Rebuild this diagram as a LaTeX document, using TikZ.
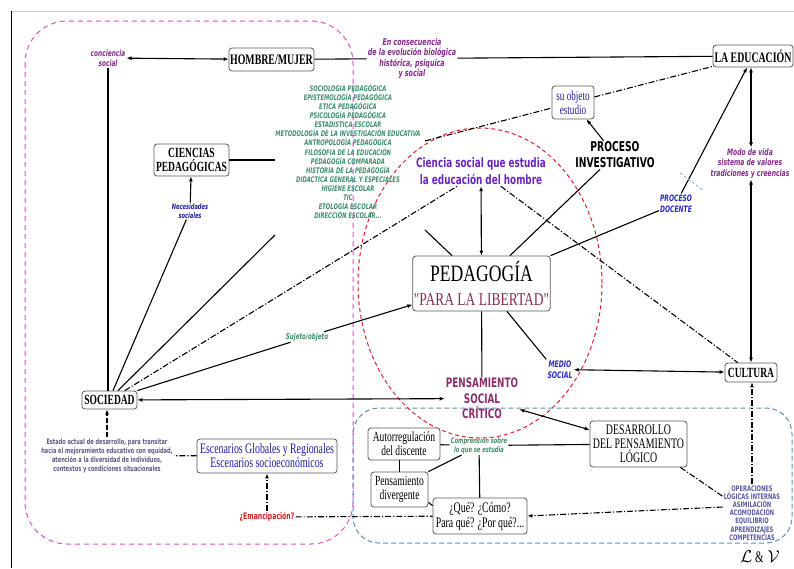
\documentclass[tikz,border=0pt]{standalone}
\usepackage{fontspec}
\setmainfont{Liberation Serif}[FakeStretch=0.68]
\newfontfamily\serw{Liberation Serif}[FakeStretch=0.75]
\newfontfamily\sfc{DejaVu Sans}[FakeStretch=0.68]
\usetikzlibrary{arrows.meta,calc}
\definecolor{purpA}{HTML}{862A8E}
\definecolor{violC}{HTML}{6B24C4}
\definecolor{blueT}{HTML}{2A2AC8}
\definecolor{blueD}{HTML}{1E1EA0}
\definecolor{maroonP}{HTML}{8C2F6E}
\definecolor{maroonL}{HTML}{8A2A55}
\definecolor{greenL}{HTML}{3F8F6C}
\definecolor{redE}{HTML}{D21818}
\definecolor{grayP}{HTML}{5E5A86}
\definecolor{opsB}{HTML}{5A5AA8}
\definecolor{pinkD}{HTML}{E050D0}
\definecolor{blueDash}{HTML}{6090B8}
\definecolor{redDash}{HTML}{E02030}
\definecolor{lightB}{HTML}{80B0D8}
\tikzset{
  box/.style={draw=black!65, line width=0.8pt, rounded corners=3pt, fill=white, align=center, inner sep=1pt},
  lbl/.style={align=center, inner sep=1pt},
  ln/.style={line width=1.1pt, black},
  arr/.style={-{Latex[length=5pt,width=4pt]}},
  darr/.style={{Latex[length=5pt,width=4pt]}-{Latex[length=5pt,width=4pt]}},
  dd/.style={black, line width=1.1pt, dash pattern=on 6pt off 2pt on 1.2pt off 2pt},
}
\begin{document}
\begin{tikzpicture}[x=1pt,y=-1pt]
\useasboundingbox (0,0) rectangle (794,568);
\fill[white] (0,0) rectangle (794,568);
% frame
\draw[black!20, line width=1pt] (11,11) -- (794,11);
\draw[black, line width=1pt] (11,11) -- (11,568);
% dashed regions
\draw[pinkD, line width=1pt, dash pattern=on 5pt off 4pt, rounded corners=42pt] (25,21) rectangle (353,544);
\draw[blueDash, line width=1pt, dash pattern=on 5pt off 3pt, rounded corners=26pt] (353,408) rectangle (792,543);
\draw[redDash, line width=1pt, dash pattern=on 4pt off 3pt] (480,283) ellipse [x radius=122pt, y radius=155pt];

% boxes
\node[box, minimum width=85pt, minimum height=23pt, font=\fontsize{14.5}{15}\selectfont\bfseries] (hm) at (271.5,59.5) {HOMBRE/MUJER};
\node[box, minimum width=80pt, minimum height=22pt, font=\fontsize{14.5}{15}\selectfont\bfseries] (edu) at (753,56) {LA EDUCACIÓN};
\node[box, minimum width=75pt, minimum height=32pt, font=\fontsize{14}{14}\selectfont\bfseries] (cien) at (191.5,160) {CIENCIAS\\PEDAGÓGICAS};
\node[box, minimum width=55pt, minimum height=18pt, font=\fontsize{14}{14}\selectfont\bfseries] (soc) at (109.5,400) {SOCIEDAD};
\node[box, minimum width=52pt, minimum height=19pt, font=\fontsize{14}{14}\selectfont\bfseries] (cul) at (751,372.5) {CULTURA};
\node[box, minimum width=42pt, minimum height=33pt, text=blueD, font=\fontsize{13.5}{14}\selectfont] (obj) at (573,102.5) {su objeto\\estudio};
\node[box, minimum width=137pt, minimum height=55pt, font=\serw\fontsize{18}{24}\selectfont] (ped) at (481.5,283.5) {{\fontsize{23.5}{24}\selectfont PEDAGOGÍA}\\\textcolor{maroonL}{"PARA LA LIBERTAD"}};
\node[box, minimum width=97pt, minimum height=46pt, font=\fontsize{14.5}{14}\selectfont] (des) at (638.5,444) {DESARROLLO\\DEL PENSAMIENTO\\LÓGICO};
\node[box, minimum width=72pt, minimum height=32pt, font=\fontsize{14}{14}\selectfont] (aut) at (404,444) {Autorregulación\\del discente};
\node[box, minimum width=57pt, minimum height=35pt, font=\fontsize{14}{13.5}\selectfont] (pdv) at (399.5,489.5) {Pensamiento\\divergente};
\node[box, minimum width=94pt, minimum height=36pt, font=\fontsize{14.5}{15}\selectfont] (que) at (480,516) {¿Qué? ¿Cómo?\\Para qué? ¿Por qué?...};
\node[box, minimum width=140pt, minimum height=34pt, text=blueD, font=\fontsize{14.5}{14}\selectfont] (esc) at (267,456) {Escenarios Globales y Regionales\\Escenarios socioeconómicos};

% text labels
\node[lbl, text=purpA, font=\sfc\fontsize{8.6}{10}\selectfont\bfseries\itshape] (conc) at (108,58) {conciencia\\social};
\node[lbl, text=purpA, font=\sfc\fontsize{9.3}{10.3}\selectfont\bfseries\itshape] (ecs) at (412,58.5) {En consecuencia\\de la evolución biológica\\histórica, psiquica\\y social};
\node[lbl, text=greenL, font=\sfc\fontsize{7.7}{9.07}\selectfont\bfseries\itshape] (lst) at (348,151.5) {SOCIOLOGIA PEDAGÓGICA\\EPISTEMOLOGÍA PEDAGÓGICA\\ETICA PEDAGÓGICA\\PSICOLOGÍA PEDAGÓGICA\\ESTADISTICA ESCOLAR\\METODOLOGÍA DE LA INVESTIGACIÓN EDUCATIVA\\ANTROPOLOGÍA PEDAGÓGICA\\FILOSOFIA DE LA EDUCACIÓN\\PEDAGOGÍA COMPARADA\\HISTORIA DE LA PEDAGOGÍA\\DIDACTICA GENERAL Y ESPECIALES\\HIGIENE ESCOLAR\\TIC\\ETOLOGÍA ESCOLAR\\DIRECCIÓN ESCOLAR...};
\node[lbl, text=blueD, font=\sfc\fontsize{7.5}{9}\selectfont\bfseries\itshape] (nec) at (190,211) {Necesidades\\sociales};
\node[lbl, text=greenL, font=\sfc\fontsize{8.2}{9}\selectfont\bfseries\itshape] (suj) at (307,337) {Sujeto/objeto};
\node[lbl, text=violC, font=\sfc\fontsize{13}{17}\selectfont\bfseries] (cs) at (481,171.5) {Ciencia social que estudia\\la educación del hombre};
\node[lbl, text=black, font=\sfc\fontsize{13.5}{16}\selectfont\bfseries] (pi) at (615,155) {PROCESO\\INVESTIGATIVO};
\node[lbl, text=blueT, font=\sfc\fontsize{8.8}{11}\selectfont\bfseries\itshape] (pd) at (676,203.5) {PROCESO\\DOCENTE};
\node[lbl, text=purpA, font=\sfc\fontsize{8.9}{10.5}\selectfont\bfseries\itshape] (mv) at (750,163.5) {Modo de vida\\sistema de valores\\tradiciones y creencias};
\node[lbl, text=blueT, font=\sfc\fontsize{9}{11}\selectfont\bfseries\itshape] (ms) at (560,369.5) {MEDIO\\SOCIAL};
\node[lbl, text=maroonP, font=\sfc\fontsize{13}{15.5}\selectfont\bfseries] (psc) at (482,398.5) {PENSAMIENTO\\SOCIAL\\CRÍTICO};
\node[lbl, text=greenL, font=\sfc\fontsize{7.6}{9}\selectfont\bfseries\itshape] (comp) at (479,445.5) {Comprensión sobre\\lo que se estudia};
\node[lbl, text=redE, font=\sfc\fontsize{9}{10}\selectfont\bfseries] (emc) at (267,517) {¿Emancipación?};
\node[lbl, text=grayP, font=\sfc\fontsize{7.4}{9}\selectfont\bfseries] (est) at (107,455.5) {Estado actual de desarrollo, para transitar\\hacia el mejoramiento educativo con equidad,\\atención a la diversidad de individuos,\\contextos y condiciones situacionales};
\node[lbl, text=opsB, font=\sfc\fontsize{7.6}{8.2}\selectfont\bfseries] (ops) at (752,513) {OPERACIONES\\LÓGICAS INTERNAS\\ASIMILACIÓN\\ACOMODACIÓN\\EQUILIBRIO\\APRENDIZAJES\\COMPETENCIAS};
\node[lbl, font=\fontsize{16}{16}\selectfont] (sig) at (760,557) {$\mathcal{L}\,\&\mathcal{V}$};

% free ends
\coordinate (cienend) at (275,160);
\coordinate (stubS) at (275,235);
\coordinate (stubP) at (425,230);
\coordinate (lstend) at (425,141);

% connectors
\draw[ln,darr] (conc) -- (hm);
\draw[ln] (hm) -- (ecs);
\draw[ln] (ecs) -- (edu);
\draw[ln] (conc.south) -- (conc.south |- soc.north);
\draw[ln] (cien) -- (cienend);
\draw[ln,arr] (nec) -- (cien);
\draw[ln] ([xshift=3.5pt]soc.north) -- (nec);
\draw[ln] ([xshift=8.5pt]soc.north) -- (stubS);
\draw[dd] (soc) -- (cs);
\draw[ln] (soc.north east) -- (suj);
\draw[ln,arr] (suj) -- (ped);
\draw[ln,darr] (soc) -- (psc);
\draw[ln] (ped) -- (psc);
\draw[ln,darr] (psc) -- (des);
\draw[ln] (aut) -- (comp);
\draw[ln] (comp) -- (des);
\draw[ln] (pdv.north) -- (pdv.north |- aut.south);
\draw[ln] (pdv.north east) -- ([xshift=12pt]comp.south west);
\draw[ln] (comp) -- (que);
\draw[ln] ([yshift=5pt]pdv.south east) -- ([yshift=-8pt]que.north west);
\draw[dd] (emc) -- (que);
\draw[dd,arr] (emc) -- (esc);
\draw[dd] (esc) -- (est);
\draw[ln,dash pattern=on 5pt off 2pt,arr] (est.north) -- (est.north |- soc.south);
\draw[dd,arr] ([yshift=6pt]ops.west) -- (que.east);
\draw[dd] ([xshift=-7pt]des.south east) -- ([yshift=-12pt]ops.north west);
\draw[dd,arr] (ops.north) -- (ops.north |- cul.south);
\draw[ln,darr] (ms) -- (cul);
\draw[ln] ([xshift=25.5pt]ped.south) -- (ms.north west);
\draw[ln,darr] (mv.north -| cul.north) -- (edu.south -| cul.north);
\draw[ln,darr] (mv.south -| cul.north) -- (cul.north);
\draw[ln,arr] (pd) -- (edu);
\draw[ln] (ped.north east) -- (pd);
\draw[ln] ([xshift=28.5pt]ped.north) -- (pi);
\draw[ln,arr] (pi) -- (obj);
\draw[dd] (obj) -- (edu);
\draw[dd] (lstend) -- (obj);
\draw[ln,darr] (cs) -- (ped);
\draw[dd] (cs) -- (cul);
\draw[ln] ([xshift=-29.5pt]ped.north) -- (stubP);
\draw[lightB, line width=0.8pt, densely dashed] (680,173) -- (703,190);
\end{tikzpicture}
\end{document}
